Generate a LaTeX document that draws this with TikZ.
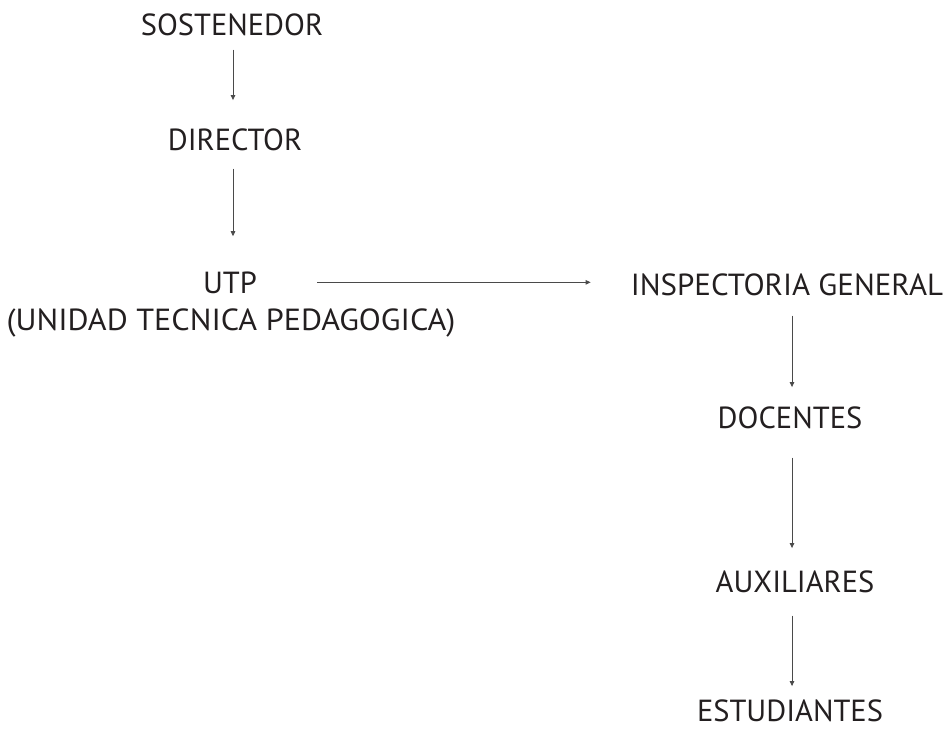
\documentclass[tikz,border=0pt]{standalone}
\usepackage{fontspec}
\setmainfont{PT Sans}
\usetikzlibrary{arrows.meta}
\definecolor{ink}{HTML}{231F20}
\definecolor{wire}{HTML}{4A4A4A}
\tikzset{
  lbl/.style={anchor=base, inner sep=0pt, text=ink, font=\fontsize{30.5}{36}\selectfont},
  conn/.style={draw=wire, line width=0.8pt, -{Triangle[length=5pt,width=4.5pt]}}
}
\begin{document}
\begin{tikzpicture}[x=1pt,y=-1pt]
\useasboundingbox (0,0) rectangle (947,728);
\node[lbl] (sost) at (232,35) {SOSTENEDOR};
\node[lbl] (dir) at (235,150) {DIRECTOR};
\node[lbl] (utp) at (230,293) {UTP};
\node[lbl] (utpfull) at (231,330) {\scalebox{1.055}[1]{(UNIDAD TECNICA PEDAGOGICA)}};
\node[lbl] (insp) at (787,295) {\scalebox{1.015}[1]{INSPECTORIA GENERAL}};
\node[lbl] (doc) at (790,428) {DOCENTES};
\node[lbl] (aux) at (795,592) {AUXILIARES};
\node[lbl] (est) at (790,721) {ESTUDIANTES};
\draw[conn, shorten <=14pt, shorten >=28pt] (sost.south -| 233,0) -- (dir.north -| 233,0);
\draw[conn, shorten <=18pt, shorten >=35pt] (dir.south -| 233,0) -- (utp.north -| 233,0);
\draw[conn, shorten <=60pt, shorten >=40pt] (utp.east) -- (insp.west |- utp.east);
\draw[conn, shorten <=20pt, shorten >=19pt] (insp.south -| 792,0) -- (doc.north -| 792,0);
\draw[conn, shorten <=29pt, shorten >=22pt] (doc.south -| 792,0) -- (aux.north -| 792,0);
\draw[conn, shorten <=23pt, shorten >=13pt] (aux.south -| 792,0) -- (est.north -| 792,0);
\end{tikzpicture}
\end{document}
